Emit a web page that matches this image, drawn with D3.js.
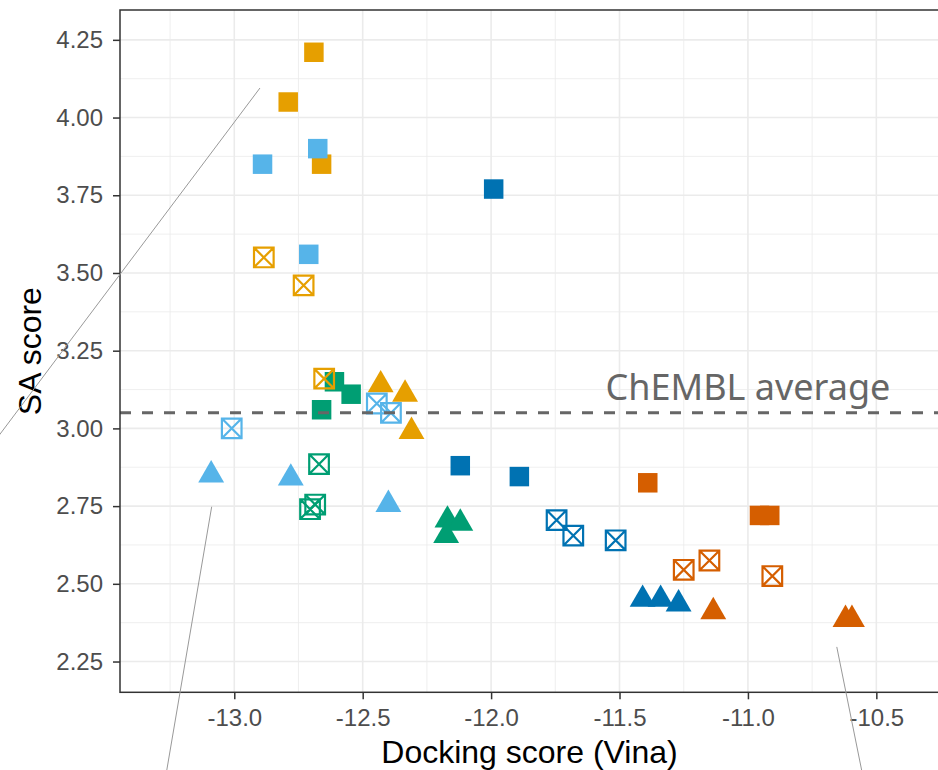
<!DOCTYPE html>
<html>
<head>
<meta charset="utf-8">
<script src="https://cdn.jsdelivr.net/npm/d3@7"></script>
<style>
  html, body { margin: 0; padding: 0; background: #fff; }
  svg { display: block; }
</style>
</head>
<body>
<div id="container"></div>
<script>
// groups (colour) and methods (marker); each group has 3 points per method
const groups = ["orange", "skyblue", "green", "blue", "vermillion"]
const groupColors = ["#E69F00", "#56B4E9", "#009E73", "#0072B2", "#D55E00"]

// docking score (Vina) per group: 3 squares, 3 crossed squares, 3 triangles
const vinaOrange     = [-12.69, -12.79, -12.66, -12.885, -12.73, -12.65, -12.43, -12.335, -12.31]
const vinaSkyblue    = [-12.89, -12.675, -12.71, -13.01, -12.445, -12.39, -13.09, -12.78, -12.40]
const vinaGreen      = [-12.61, -12.545, -12.66, -12.67, -12.685, -12.705, -12.17, -12.12, -12.175]
const vinaBlue       = [-11.99, -12.12, -11.89, -11.745, -11.68, -11.515, -11.41, -11.34, -11.27]
const vinaVermillion = [-11.39, -10.955, -10.915, -11.25, -11.15, -10.905, -11.135, -10.62, -10.595]

// SA score per group, same order
const saOrange     = [4.21, 4.05, 3.85, 3.55, 3.46, 3.16, 3.14, 3.11, 2.99]
const saSkyblue    = [3.85, 3.90, 3.56, 3.00, 3.08, 3.05, 2.85, 2.84, 2.755]
const saGreen      = [3.15, 3.11, 3.06, 2.885, 2.755, 2.74, 2.705, 2.695, 2.655]
const saBlue       = [3.77, 2.88, 2.845, 2.705, 2.655, 2.64, 2.45, 2.45, 2.435]
const saVermillion = [2.825, 2.72, 2.72, 2.545, 2.575, 2.525, 2.41, 2.385, 2.385]

const markerOrder = ["square", "square", "square", "crossed", "crossed", "crossed", "triangle", "triangle", "triangle"]

const xTicks = [-13.0, -12.5, -12.0, -11.5, -11.0, -10.5]
const yTicks = [2.25, 2.50, 2.75, 3.00, 3.25, 3.50, 3.75, 4.00, 4.25]
const xMinor = [-13.25, -12.75, -12.25, -11.75, -11.25, -10.75]
const yMinor = [2.375, 2.625, 2.875, 3.125, 3.375, 3.625, 3.875, 4.125]

const chemblAverage = 3.05

// leftover repel segments (label ends fall outside the picture)
const segments = [
    [[-12.90, 4.095], [-14.30, 2.555]],
    [[-13.088, 2.748], [-13.296, 1.74]],
    [[-10.654, 2.297], [-10.518, 1.74]]
]

const vinaByGroup = [vinaOrange, vinaSkyblue, vinaGreen, vinaBlue, vinaVermillion]
const saByGroup = [saOrange, saSkyblue, saGreen, saBlue, saVermillion]

const points = []
groups.forEach((g, gi) => {
    vinaByGroup[gi].forEach((v, i) => {
        points.push({group: g, color: groupColors[gi], marker: markerOrder[i], vina: v, sa: saByGroup[gi][i]})
    })
})
// draw order seen in the picture
const drawOrder = ["blue", "green", "vermillion", "orange", "skyblue"]
points.sort((a, b) => drawOrder.indexOf(a.group) - drawOrder.indexOf(b.group))

const width = 938
const height = 770
const panel = {left: 120, right: 939, top: 10, bottom: 692.3}

const x = d3.scaleLinear()
    .domain([-13.445, -10.256])
    .range([panel.left, panel.right])

const y = d3.scaleLinear()
    .domain([2.151, 4.346])
    .range([panel.bottom, panel.top])

const svg = d3.create("svg")
    .attr("width", width)
    .attr("height", height)
    .style("font-family", "'Liberation Sans', Arial, sans-serif")

svg.append("rect")
    .attr("width", width)
    .attr("height", height)
    .attr("fill", "#fff")

// grid
const grid = svg.append("g")
grid.selectAll(".xminor").data(xMinor).join("line")
    .attr("x1", d => x(d)).attr("x2", d => x(d))
    .attr("y1", panel.top).attr("y2", panel.bottom)
    .attr("stroke", "#ebebeb").attr("stroke-width", 0.8)
grid.selectAll(".yminor").data(yMinor).join("line")
    .attr("y1", d => y(d)).attr("y2", d => y(d))
    .attr("x1", panel.left).attr("x2", panel.right)
    .attr("stroke", "#ebebeb").attr("stroke-width", 0.8)
grid.selectAll(".xmajor").data(xTicks).join("line")
    .attr("x1", d => x(d)).attr("x2", d => x(d))
    .attr("y1", panel.top).attr("y2", panel.bottom)
    .attr("stroke", "#ebebeb").attr("stroke-width", 1.6)
grid.selectAll(".ymajor").data(yTicks).join("line")
    .attr("y1", d => y(d)).attr("y2", d => y(d))
    .attr("x1", panel.left).attr("x2", panel.right)
    .attr("stroke", "#ebebeb").attr("stroke-width", 1.6)

// points
const crossedSquare = {
    draw(ctx, size) {
        const s = Math.sqrt(size) / 2
        ctx.moveTo(-s, -s)
        ctx.lineTo(s, -s)
        ctx.lineTo(s, s)
        ctx.lineTo(-s, s)
        ctx.closePath()
        ctx.moveTo(-s, -s)
        ctx.lineTo(s, s)
        ctx.moveTo(s, -s)
        ctx.lineTo(-s, s)
    }
}
const symbolFor = {
    square: d3.symbol(d3.symbolSquare, 380),
    crossed: d3.symbol(crossedSquare, 385),
    triangle: d3.symbol(d3.symbolTriangle, 290)
}

svg.append("g")
    .selectAll("path")
    .data(points)
    .join("path")
    .attr("transform", d => `translate(${x(d.vina)},${y(d.sa)})`)
    .attr("d", d => symbolFor[d.marker]())
    .attr("fill", d => d.marker === "crossed" ? "none" : d.color)
    .attr("stroke", d => d.marker === "crossed" ? d.color : "none")
    .attr("stroke-width", 2.2)

// ChEMBL average line and label
svg.append("line")
    .attr("x1", panel.left).attr("x2", panel.right)
    .attr("y1", y(chemblAverage)).attr("y2", y(chemblAverage))
    .attr("stroke", "#666666")
    .attr("stroke-width", 3)
    .attr("stroke-dasharray", "11,11")

svg.append("text")
    .attr("x", x(-11.0))
    .attr("y", y(3.09))
    .attr("text-anchor", "middle")
    .attr("fill", "#666666")
    .style("font-family", "'Noto Sans', sans-serif")
    .style("font-size", "36px")
    .text("ChEMBL average")

// panel border
svg.append("rect")
    .attr("x", panel.left)
    .attr("y", panel.top)
    .attr("width", panel.right - panel.left)
    .attr("height", panel.bottom - panel.top)
    .attr("fill", "none")
    .attr("stroke", "#333333")
    .attr("stroke-width", 1.5)

// axes
const xAxis = svg.append("g")
    .attr("transform", `translate(0,${panel.bottom})`)
    .call(d3.axisBottom(x).tickValues(xTicks).tickFormat(d => d.toFixed(1)).tickSize(7).tickPadding(10))
const yAxis = svg.append("g")
    .attr("transform", `translate(${panel.left},0)`)
    .call(d3.axisLeft(y).tickValues(yTicks).tickFormat(d => d.toFixed(2)).tickSize(7).tickPadding(10))

for (const ax of [xAxis, yAxis]) {
    ax.select(".domain").remove()
    ax.selectAll(".tick line").attr("stroke", "#333333").attr("stroke-width", 1.5)
    ax.selectAll(".tick text")
        .attr("fill", "#4d4d4d")
        .style("font-family", "'Liberation Sans', Arial, sans-serif")
        .style("font-size", "24px")
}

svg.append("text")
    .attr("x", (panel.left + panel.right) / 2)
    .attr("y", 763)
    .attr("text-anchor", "middle")
    .attr("fill", "#000")
    .style("font-size", "32px")
    .text("Docking score (Vina)")

svg.append("text")
    .attr("transform", `translate(41,${(panel.top + panel.bottom) / 2}) rotate(-90)`)
    .attr("text-anchor", "middle")
    .attr("fill", "#000")
    .style("font-size", "32px")
    .text("SA score")

// label segments
svg.append("g")
    .selectAll("line")
    .data(segments)
    .join("line")
    .attr("x1", d => x(d[0][0])).attr("y1", d => y(d[0][1]))
    .attr("x2", d => x(d[1][0])).attr("y2", d => y(d[1][1]))
    .attr("stroke", "#999999")
    .attr("stroke-width", 1)

document.querySelector("#container").appendChild(svg.node())
</script>
</body>
</html>
